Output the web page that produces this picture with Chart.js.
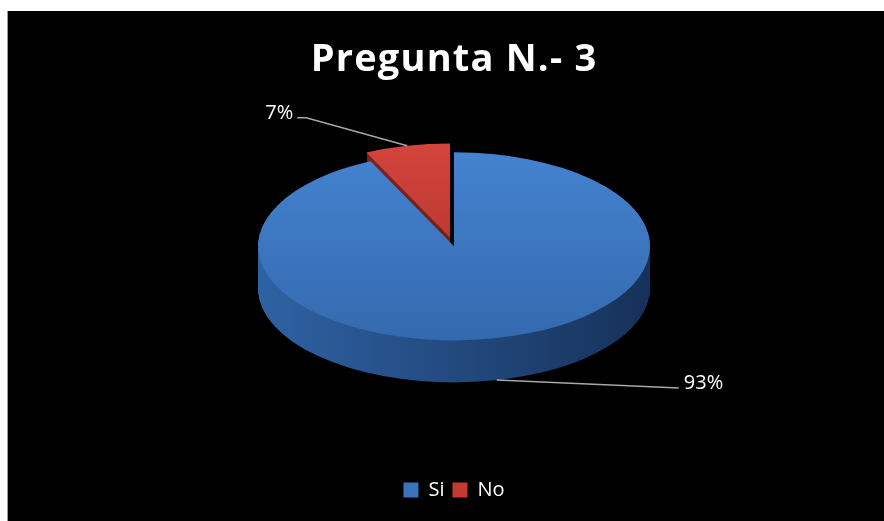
<!DOCTYPE html>
<html>
<head>
<meta charset="utf-8">
<title>Pregunta N.- 3</title>
<script src="https://cdn.jsdelivr.net/npm/chart.js@4.4.1/dist/chart.umd.min.js"></script>
<style>
  html, body { margin: 0; padding: 0; background: #fff; }
  #frame { position: absolute; left: 7px; top: 11px; width: 876px; height: 510px; border-left: 1px solid #9c9c9c; background: #000; }
  canvas { display: block; }
</style>
</head>
<body>
<div id="frame"><canvas id="pieChart" width="876" height="510"></canvas></div>
<script>
// Pregunta N.- 3 - pie drawn with a 3D look (tilted top face + extruded side)

const categories = ['Si', 'No'];
const answers = [93, 7];

// styling
const legendColors = ['#3a74bd', '#c33a33'];
const topColors = [['#4483d0', '#3469ae'], ['#d4443c', '#a42f2a']];
const sideColors = [['#2f62a3', '#16315a'], ['#8c2723', '#5a1613']];
const EXPLODE = [0, 18];       // slice pull-out, before tilt
const PIE_RX = 196;            // horizontal radius of the top face
const TILT = 0.48;             // vertical / horizontal radius
const DEPTH = 42;              // height of the side wall
const LEADERS = [
  { dx: 182, dy: 8, elbow: 0, align: 'left' },
  { dx: -101, dy: -28, elbow: 9, align: 'right' }
];

const pie3d = {
  id: 'pie3d',
  afterInit(chart) {
    // wider letter spacing for the title only
    const tb = chart.titleBlock;
    if (tb && !tb._spaced) {
      const draw = tb.draw;
      tb.draw = function () {
        const c = this.ctx || chart.ctx;
        c.save();
        c.letterSpacing = '1.2px';
        draw.apply(this, arguments);
        c.restore();
      };
      tb._spaced = true;
    }
  },
  beforeDatasetsDraw(chart) {
    const arcs = chart.getDatasetMeta(0).data;
    if (!arcs.length) return false;
    const ctx = chart.ctx;
    const r0 = arcs[0].outerRadius;
    const cx = arcs[0].x, cy = arcs[0].y;
    const sx = PIE_RX / r0, sy = PIE_RX * TILT / r0;
    const topY = cy - DEPTH / 2 - 15;

    const place = (arc, i, dy) => {
      const mid = (arc.startAngle + arc.endAngle) / 2;
      ctx.translate(cx, topY + dy);
      ctx.scale(sx, sy);
      ctx.translate(-cx, -cy);
      ctx.translate(Math.cos(mid) * EXPLODE[i], Math.sin(mid) * EXPLODE[i]);
    };
    const paint = (arc, fill) => {
      const saved = arc.options;
      arc.options = Object.assign({}, saved, { backgroundColor: fill, borderWidth: 0, offset: 0 });
      arc.draw(ctx);
      arc.options = saved;
    };

    const sideFill = sideColors.map(c => {
      const g = ctx.createLinearGradient(cx - r0, 0, cx + r0, 0);
      g.addColorStop(0, c[0]);
      g.addColorStop(1, c[1]);
      return g;
    });
    const topFill = topColors.map(c => {
      const g = ctx.createLinearGradient(0, cy - r0, 0, cy + r0);
      g.addColorStop(0, c[0]);
      g.addColorStop(1, c[1]);
      return g;
    });

    // side wall, bottom layer first
    for (let d = DEPTH; d > 0; d--) {
      arcs.forEach((arc, i) => {
        ctx.save();
        place(arc, i, d);
        paint(arc, sideFill[i]);
        ctx.restore();
      });
    }
    // top faces
    arcs.forEach((arc, i) => {
      ctx.save();
      place(arc, i, 0);
      paint(arc, topFill[i]);
      ctx.restore();
    });

    // percentage labels with leader lines
    const total = answers.reduce((s, v) => s + v, 0);
    ctx.save();
    ctx.font = '20px "Open Sans"';
    ctx.fillStyle = '#ffffff';
    ctx.strokeStyle = '#a8a8a8';
    ctx.lineWidth = 1.5;
    ctx.textBaseline = 'alphabetic';
    arcs.forEach((arc, i) => {
      const mid = (arc.startAngle + arc.endAngle) / 2;
      const r = r0 + EXPLODE[i];
      const px = cx + Math.cos(mid) * r * sx;
      let py = topY + Math.sin(mid) * r * sy;
      if (Math.sin(mid) > 0) py += DEPTH;
      const lead = LEADERS[i];
      const ex = px + lead.dx, ey = py + lead.dy;
      const tipX = lead.align === 'right' ? ex - lead.elbow : ex + lead.elbow;
      ctx.beginPath();
      ctx.moveTo(px, py);
      ctx.lineTo(ex, ey);
      ctx.lineTo(tipX, ey);
      ctx.stroke();
      const text = Math.round(answers[i] / total * 100) + '%';
      ctx.textAlign = lead.align;
      ctx.fillText(text, lead.align === 'right' ? tipX - 4 : tipX + 5, ey + 1);
    });
    ctx.restore();
    return false;
  }
};

const chartCanvas = document.getElementById('pieChart');
new Chart(chartCanvas.getContext('2d'), {
  type: 'pie',
  data: {
    labels: categories,
    datasets: [{
      data: answers,
      backgroundColor: legendColors,
      borderWidth: 0
    }]
  },
  options: {
    responsive: false,
    animation: false,
    layout: { padding: { left: 16, bottom: 11 } },
    plugins: {
      title: {
        display: true,
        text: 'Pregunta N.- 3',
        color: '#ffffff',
        font: { family: 'Open Sans', size: 38, weight: 'bold', lineHeight: 1.2 },
        padding: { top: 26, bottom: 10 }
      },
      legend: {
        position: 'bottom',
        labels: {
          color: '#ffffff',
          font: { family: 'Open Sans', size: 20 },
          boxWidth: 15,
          boxHeight: 15,
          padding: 8
        }
      },
      tooltip: { enabled: false }
    }
  },
  plugins: [pie3d]
});
</script>
</body>
</html>
